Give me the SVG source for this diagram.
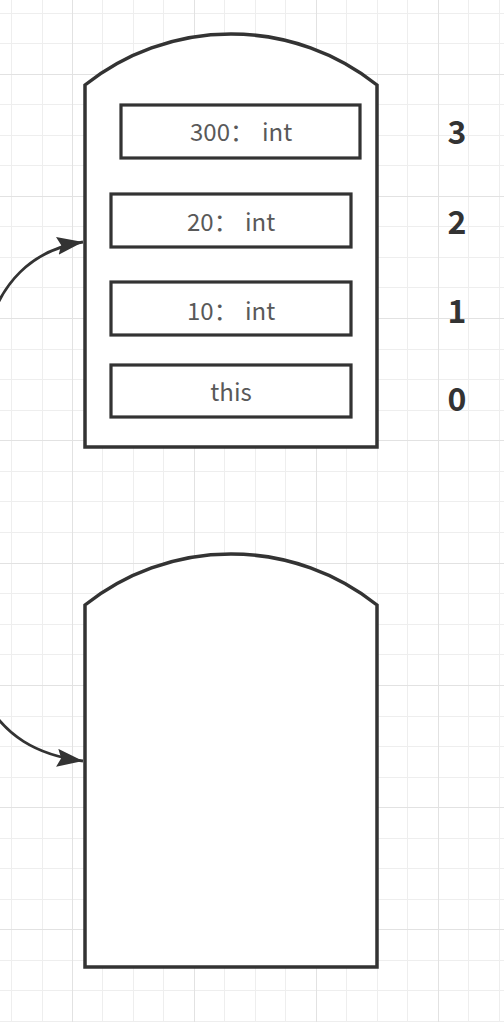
<svg xmlns="http://www.w3.org/2000/svg" width="504" height="1022" viewBox="0 0 504 1022">
  <style>
    .frame { fill: #ffffff; stroke: #333333; stroke-width: 3.5; stroke-linejoin: miter; }
    .slot { fill: #ffffff; stroke: #333333; stroke-width: 3.2; }
    .lbl { font-family: "Noto Sans CJK SC", "Noto Sans", sans-serif; font-size: 24px; fill: #595959; }
    .idx { font-family: "Noto Sans CJK SC", "Noto Sans", sans-serif; font-size: 32px; font-weight: bold; fill: #333333; text-anchor: middle; }
    .conn { fill: none; stroke: #333333; stroke-width: 2.8; }
    .gminor { stroke: #eeeeee; stroke-width: 1; fill: none; }
    .gmajor { stroke: #e2e2e2; stroke-width: 1; fill: none; }
  </style>
  <defs>
    <marker id="arrow" markerUnits="userSpaceOnUse" markerWidth="28" markerHeight="20" refX="26" refY="9" orient="auto">
      <path d="M0,0 L26,9 L0,18 L4,9 z" fill="#333333"/>
    </marker>
  </defs>
  <rect x="0" y="0" width="504" height="1022" fill="#ffffff"/>
  <g id="grid">
    <path class="gminor" d="M11.5 0V1022M42.5 0V1022M102.5 0V1022M133.5 0V1022M163.5 0V1022M224.5 0V1022M255.5 0V1022M285.5 0V1022M346.5 0V1022M377.5 0V1022M407.5 0V1022M468.5 0V1022M499.5 0V1022
      M0 13.5H504M0 43.5H504M0 104.5H504M0 135.5H504M0 165.5H504M0 226.5H504M0 257.5H504M0 287.5H504M0 349.5H504M0 379.5H504M0 410.5H504M0 471.5H504M0 501.5H504M0 532.5H504M0 593.5H504M0 624.5H504M0 654.5H504M0 716.5H504M0 746.5H504M0 777.5H504M0 838.5H504M0 868.5H504M0 899.5H504M0 960.5H504M0 990.5H504M0 1021.5H504"/>
    <path class="gmajor" d="M72.5 0V1022M194.5 0V1022M316.5 0V1022M438.5 0V1022M0 74.5H504M0 196.5H504M0 318.5H504M0 440.5H504M0 563.5H504M0 685.5H504M0 807.5H504M0 929.5H504"/>
  </g>
  <g id="connectors">
    <path class="conn" d="M-12 330 C0 285, 30 250, 83 242" marker-end="url(#arrow)"/>
    <path class="conn" d="M-15 700 C5 735, 35 755, 83 761" marker-end="url(#arrow)"/>
  </g>
  <g id="frame1">
    <path class="frame" d="M85 85 A234.5 234.5 0 0 1 377 85 L377 447 L85 447 Z"/>
  </g>
  <g id="slot3">
    <rect class="slot" x="121" y="105" width="239" height="53"/>
    <text class="lbl" x="190" y="141">300：<tspan x="262">int</tspan></text>
  </g>
  <g id="slot2">
    <rect class="slot" x="111" y="194" width="240" height="53"/>
    <text class="lbl" x="187" y="231">20：<tspan x="245">int</tspan></text>
  </g>
  <g id="slot1">
    <rect class="slot" x="111" y="282" width="240" height="53"/>
    <text class="lbl" x="187" y="320">10：<tspan x="245">int</tspan></text>
  </g>
  <g id="slot0">
    <rect class="slot" x="111" y="365" width="240" height="52"/>
    <text class="lbl" x="231" y="401" text-anchor="middle">this</text>
  </g>
  <g id="indices">
    <text class="idx" x="457" y="144">3</text>
    <text class="idx" x="457" y="234">2</text>
    <text class="idx" x="457" y="323">1</text>
    <text class="idx" x="457" y="411">0</text>
  </g>
  <g id="frame2">
    <path class="frame" d="M85 605 A234.5 234.5 0 0 1 377 605 L377 967 L85 967 Z"/>
  </g>
</svg>
